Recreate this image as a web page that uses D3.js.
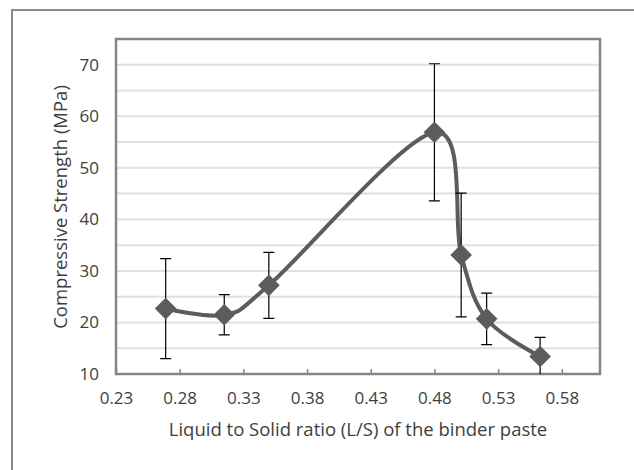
<!DOCTYPE html>
<html>
<head>
<meta charset="utf-8">
<script src="https://cdn.jsdelivr.net/npm/d3@7"></script>
<style>
  body { margin: 0; background: #fff; }
  text { font-family: "Open Sans", sans-serif; fill: #404040; }
</style>
</head>
<body>
<div id="chart"></div>
<script>
// values
var lsRatio = [0.269, 0.315, 0.350, 0.480, 0.501, 0.521, 0.563];
var strength = [22.7, 21.5, 27.2, 56.9, 33.1, 20.7, 13.4];
var errBar = [9.7, 3.9, 6.4, 13.3, 12.0, 5.0, 3.7];
var xTicks = [0.23, 0.28, 0.33, 0.38, 0.43, 0.48, 0.53, 0.58];
var yTicks = [10, 20, 30, 40, 50, 60, 70];
var yGrid = [15, 20, 25, 30, 35, 40, 45, 50, 55, 60, 65, 70];

var W = 634, H = 470;
var margin = {top: 39, right: 34, bottom: 96, left: 116},
    width = W - margin.left - margin.right,
    height = H - margin.top - margin.bottom;

var svg = d3.select("#chart")
  .append("svg")
    .attr("width", W)
    .attr("height", H);

// outer chart frame (runs off the right and bottom of the picture)
svg.append("path")
  .attr("d", "M12," + (H + 5) + "V10H" + (W + 5))
  .attr("fill", "none")
  .attr("stroke", "#8a8a8a")
  .attr("stroke-width", 2);

var g = svg.append("g")
  .attr("transform", "translate(" + margin.left + "," + margin.top + ")");

var x = d3.scaleLinear()
  .domain([0.23, 0.61])
  .range([0, width]);

var y = d3.scaleLinear()
  .domain([10, 75])
  .range([height, 0]);

g.append("defs").append("clipPath")
    .attr("id", "clip")
  .append("rect")
    .attr("width", width)
    .attr("height", height);

// gridlines
g.selectAll(".grid")
    .data(yGrid)
  .enter().append("line")
    .attr("x1", 0)
    .attr("x2", width)
    .attr("y1", function(d) { return y(d); })
    .attr("y2", function(d) { return y(d); })
    .attr("stroke", "#e0e0e0")
    .attr("stroke-width", 2);

// x axis, ticks inside
var xAxis = g.append("g")
  .attr("transform", "translate(0," + height + ")")
  .call(d3.axisBottom(x)
    .tickValues(xTicks)
    .tickFormat(d3.format(".2f"))
    .tickSizeInner(-5)
    .tickSizeOuter(0)
    .tickPadding(18));
xAxis.select(".domain").remove();
xAxis.selectAll("line").attr("stroke", "#868686").attr("stroke-width", 1.5);
xAxis.selectAll("text").attr("font-size", 17).attr("font-family", "Open Sans").attr("fill", "#404040");

var yAxis = g.append("g")
  .call(d3.axisLeft(y)
    .tickValues(yTicks)
    .tickSize(0)
    .tickPadding(17));
yAxis.select(".domain").remove();
yAxis.selectAll("text").attr("font-size", 17).attr("font-family", "Open Sans").attr("fill", "#404040");

// plot frame
g.append("rect")
  .attr("width", width)
  .attr("height", height)
  .attr("fill", "none")
  .attr("stroke", "#868686")
  .attr("stroke-width", 2.5);

var pts = lsRatio.map(function(d, i) {
  return {x: d, y: strength[i], e: errBar[i]};
});

// smoothed line
var line = d3.line()
  .x(function(d) { return x(d.x); })
  .y(function(d) { return y(d.y); })
  .curve(d3.curveCatmullRom.alpha(0));

g.append("path")
  .datum(pts)
  .attr("d", line)
  .attr("fill", "none")
  .attr("stroke", "#5c5c5c")
  .attr("stroke-width", 4);

// error bars
var eb = g.append("g").attr("clip-path", "url(#clip)");
eb.selectAll(".ev")
    .data(pts)
  .enter().append("path")
    .attr("d", function(d) {
      var cx = x(d.x), top = y(d.y + d.e), bot = y(d.y - d.e);
      return "M" + (cx - 5.5) + "," + top + "H" + (cx + 5.5) +
             "M" + cx + "," + top + "V" + bot +
             "M" + (cx - 5.5) + "," + bot + "H" + (cx + 5.5);
    })
    .attr("fill", "none")
    .attr("stroke", "#000")
    .attr("stroke-width", 1.2);

// diamond markers
g.selectAll(".dot")
    .data(pts)
  .enter().append("path")
    .attr("d", d3.symbol().type(d3.symbolSquare).size(235))
    .attr("transform", function(d) {
      return "translate(" + x(d.x) + "," + y(d.y) + ") rotate(45)";
    })
    .attr("fill", "#5c5c5c");

// axis titles
svg.append("text")
  .attr("x", 358)
  .attr("y", 436)
  .attr("text-anchor", "middle")
  .attr("font-size", 18.5)
  .text("Liquid to Solid ratio (L/S) of the binder paste");

svg.append("text")
  .attr("transform", "translate(67,207) rotate(-90)")
  .attr("text-anchor", "middle")
  .attr("font-size", 18.5)
  .text("Compressive Strength (MPa)");
</script>
</body>
</html>
